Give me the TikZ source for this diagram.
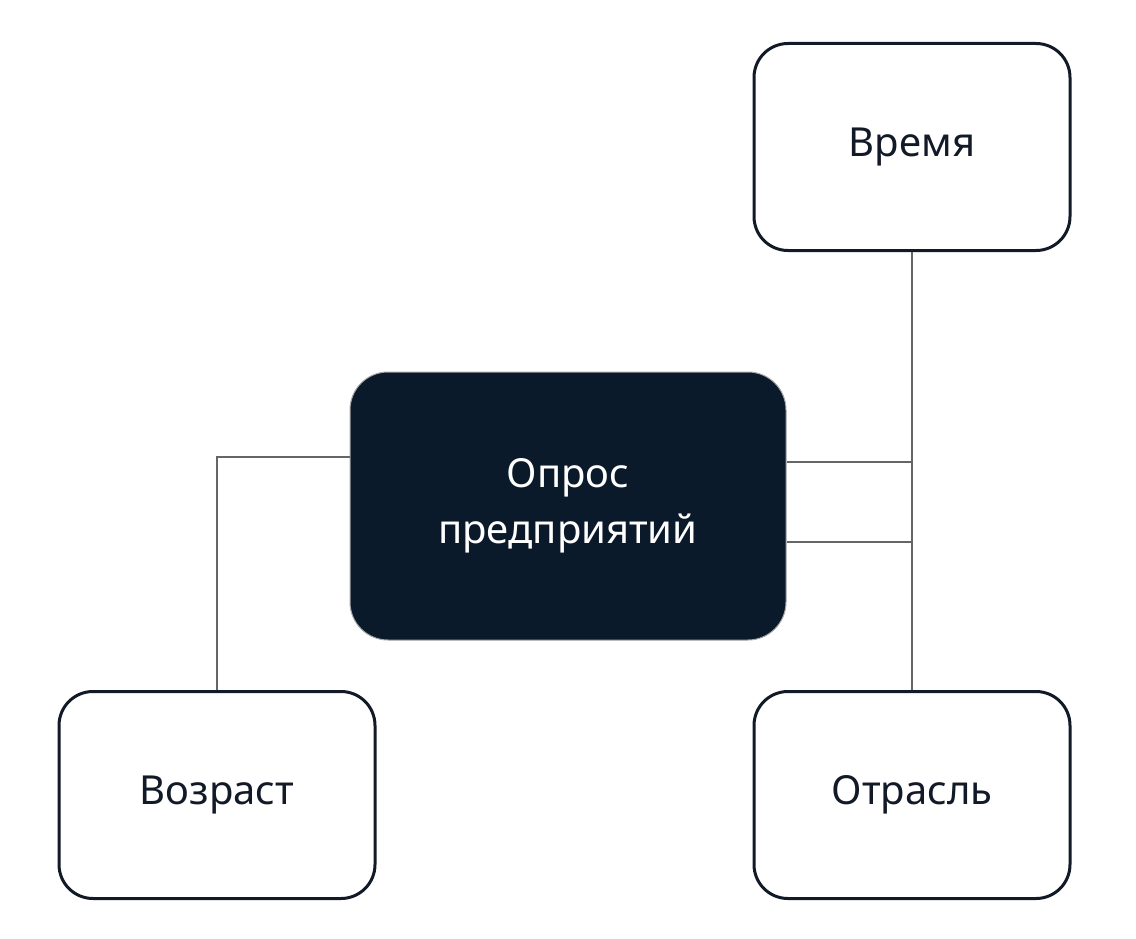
\documentclass[tikz,border=0pt]{standalone}
\usepackage{fontspec}
\setmainfont{Noto Sans}
\definecolor{navy}{HTML}{0B1A2A}
\definecolor{edge}{HTML}{111A26}
\begin{document}
\begin{tikzpicture}[x=1pt,y=-1pt,
  box/.style={draw=edge,line width=3pt,rounded corners=34pt,fill=white,minimum width=316pt,minimum height=207pt,font=\fontsize{40}{48}\selectfont,text=edge,inner sep=0pt},
  main/.style={draw=gray!70,line width=1pt,rounded corners=38pt,fill=navy,minimum width=436pt,minimum height=268pt,font=\fontsize{40}{56}\selectfont,text=white,align=center,inner sep=0pt},
  link/.style={draw=gray!80!black,line width=1.2pt}]
\useasboundingbox (0,0) rectangle (1136,939);
\node[main] (c) at (568,506) {Опрос\\предприятий};
\node[box] (t) at (912,147) {Время};
\node[box] (a) at (217,795) {Возраст};
\node[box] (o) at (912,795) {Отрасль};
\draw[link] ([yshift=-36pt]c.east) -| (t);
\draw[link] ([yshift=44pt]c.east) -| (o);
\draw[link] ([yshift=49pt]c.west) -| (a);
\end{tikzpicture}
\end{document}
